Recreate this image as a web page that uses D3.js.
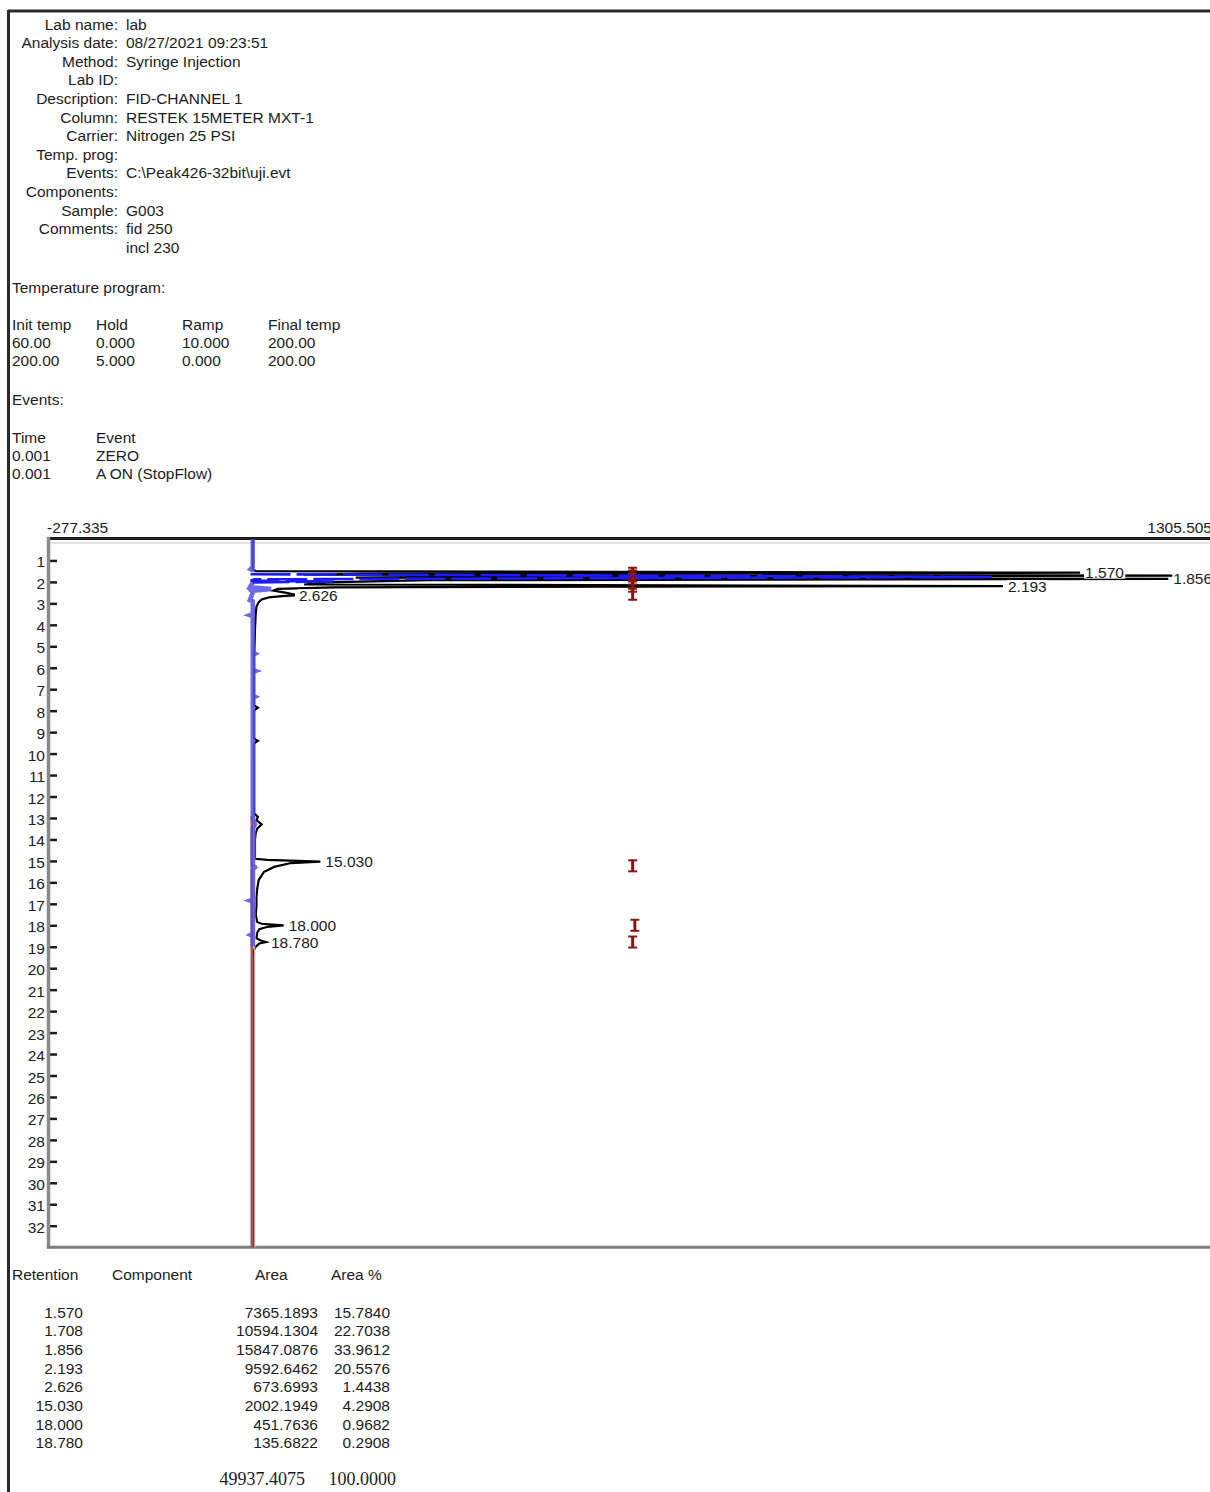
<!DOCTYPE html>
<html>
<head>
<meta charset="utf-8">
<script src="https://cdn.jsdelivr.net/npm/d3@7"></script>
<style>
  html, body { margin: 0; padding: 0; background: #fff; }
  svg { display: block; }
  text { font-family: "Liberation Sans", Arial, sans-serif; fill: #1c1c1c; }
</style>
</head>
<body>
<svg id="page" width="1210" height="1492"></svg>
<script>
// ---- Run header ----
const headerLabels = ["Lab name:", "Analysis date:", "Method:", "Lab ID:", "Description:", "Column:",
  "Carrier:", "Temp. prog:", "Events:", "Components:", "Sample:", "Comments:", ""];
const headerValues = ["lab", "08/27/2021 09:23:51", "Syringe Injection", "", "FID-CHANNEL 1",
  "RESTEK 15METER MXT-1", "Nitrogen 25 PSI", "", "C:\\Peak426-32bit\\uji.evt", "", "G003",
  "fid 250", "incl 230"];

// ---- Temperature program ----
const tempColumns = ["Init temp", "Hold", "Ramp", "Final temp"];
const tempRows = [["60.00", "0.000", "10.000", "200.00"], ["200.00", "5.000", "0.000", "200.00"]];

// ---- Events ----
const eventColumns = ["Time", "Event"];
const eventRows = [["0.001", "ZERO"], ["0.001", "A ON (StopFlow)"]];

// ---- Chromatogram (time in minutes, signal in mV) ----
const signalMin = -277.335;
const signalMax = 1305.505;
const timeMax = 33;
const timeTicks = d3.range(1, 33);

const peakTimes   = [1.570, 1.708, 1.856, 2.193, 2.626, 15.030, 18.000, 18.780];
const peakLabels  = ["1.570", "1.708", "1.856", "2.193", "2.626", "15.030", "18.000", "18.780"];
const peakHeights = [1126, 1420, 1246, 1021, 56, 92, 42, 18];
const peakAreas   = ["7365.1893", "10594.1304", "15847.0876", "9592.6462", "673.6993", "2002.1949", "451.7636", "135.6822"];
const peakAreaPct = ["15.7840", "22.7038", "33.9612", "20.5576", "1.4438", "4.2908", "0.9682", "0.2908"];
const totalArea = "49937.4075";
const totalAreaPct = "100.0000";

// FID signal trace [time, mV]
const fidTrace = [
  [0, 0], [1.40, 0], [1.50, 4], [1.570, 1126], [1.62, 150], [1.66, 70], [1.708, 1420],
  [1.76, 260], [1.80, 140], [1.856, 1246], [1.92, 240], [2.02, 100], [2.12, 70], [2.193, 1021],
  [2.25, 110], [2.32, 34], [2.40, 28], [2.50, 44], [2.58, 56], [2.626, 56], [2.66, 40],
  [2.72, 22], [2.82, 12], [2.95, 8], [3.15, 5], [3.5, 4], [4.2, 3], [5.5, 2], [7.75, 2],
  [7.86, 7], [7.98, 2], [9.30, 2], [9.40, 7], [9.52, 2], [12.8, 2], [12.95, 7], [13.1, 5],
  [13.3, 12], [13.5, 6], [13.7, 4], [14.0, 3], [14.90, 3], [14.95, 20], [15.030, 92],
  [15.10, 52], [15.28, 29], [15.52, 15], [15.9, 8], [16.3, 6], [16.7, 5], [17.1, 5],
  [17.5, 4], [17.85, 6], [17.93, 12], [18.000, 42], [18.07, 20], [18.18, 9], [18.35, 6],
  [18.6, 5], [18.70, 10], [18.780, 18], [18.85, 9], [19.0, 4], [19.2, 1], [19.5, 0], [33, 0]
];

// Overlay (reference run) trace [time, mV]
const refTrace = [
  [0, 0], [1.30, 0], [1.40, -3], [1.45, 0], [1.55, 0], [1.64, -3], [1.77, 1006], [1.88, 2],
  [1.94, -3], [1.98, 110], [2.02, 0], [2.25, -4], [2.33, 25], [2.42, -2], [2.5, 0], [2.85, -4],
  [2.9, 0], [3.5, 0], [3.55, -4], [3.6, 0], [5.3, 0], [5.35, 3], [5.4, 0], [6.1, 0], [6.15, 4],
  [6.2, 0], [7.3, 0], [7.35, 3], [7.4, 0], [13.0, 0], [13.3, 3], [13.5, 0], [15.2, 0], [15.3, 3],
  [15.4, 0], [16.8, 0], [16.85, -4], [16.9, 0], [18.4, 0], [18.45, -3], [18.5, 0], [19.0, 0]
];
const refDashedWindow = [1.62, 2.10];

// Integration baseline start (min)
const baselineStart = 12.9;

// Integration window markers [time, mV]
const markerTimes  = [1.60, 1.72, 1.86, 2.20, 2.58, 15.23, 18.00, 18.78];
const markerSignal = [517, 517, 517, 517, 517, 517, 520, 517];

// ------------------------------------------------------------------
const svg = d3.select("#page");

// page frame
svg.append("line").attr("x1", 8).attr("x2", 1210).attr("y1", 11).attr("y2", 11)
  .attr("stroke", "#2a2a2a").attr("stroke-width", 3);
svg.append("line").attr("x1", 8.5).attr("x2", 8.5).attr("y1", 10).attr("y2", 1492)
  .attr("stroke", "#2a2a2a").attr("stroke-width", 3);

const FS = 15.5;

// header block
const hdr = svg.append("g");
headerLabels.forEach((lab, i) => {
  const yy = 24 + i * 18.6 + 5.5;
  hdr.append("text").attr("x", 118).attr("y", yy).attr("text-anchor", "end")
    .attr("font-size", FS).text(lab);
  hdr.append("text").attr("x", 126).attr("y", yy).attr("font-size", FS).text(headerValues[i]);
});

// temperature program
const tcols = [12, 96, 182, 268];
svg.append("text").attr("x", 12).attr("y", 287 + 5.5).attr("font-size", FS).text("Temperature program:");
tempColumns.forEach((c, j) => svg.append("text").attr("x", tcols[j]).attr("y", 324 + 5.5)
  .attr("font-size", FS).text(c));
tempRows.forEach((r, i) => r.forEach((v, j) => svg.append("text").attr("x", tcols[j])
  .attr("y", 342 + i * 18 + 5.5).attr("font-size", FS).text(v)));

// events
svg.append("text").attr("x", 12).attr("y", 399 + 5.5).attr("font-size", FS).text("Events:");
eventColumns.forEach((c, j) => svg.append("text").attr("x", tcols[j]).attr("y", 437 + 5.5)
  .attr("font-size", FS).text(c));
eventRows.forEach((r, i) => r.forEach((v, j) => svg.append("text").attr("x", tcols[j])
  .attr("y", 455 + i * 18 + 5.5).attr("font-size", FS).text(v)));

// ---- chart ----
const plotLeft = 49, plotRight = 1212, plotTop = 539;
const pxPerMin = 21.46;
const x = d3.scaleLinear().domain([signalMin, signalMax]).range([plotLeft, plotRight]);
const y = d3.scaleLinear().domain([0, timeMax]).range([plotTop, plotTop + timeMax * pxPerMin]);
const plotBottom = y(timeMax);

svg.append("text").attr("x", 47).attr("y", 527 + 5.5).attr("font-size", FS).text(String(signalMin));
svg.append("text").attr("x", plotRight).attr("y", 527 + 5.5).attr("text-anchor", "end")
  .attr("font-size", FS).text(String(signalMax));

svg.append("defs").append("clipPath").attr("id", "plotclip")
  .append("rect").attr("x", plotLeft).attr("y", plotTop).attr("width", plotRight - plotLeft)
  .attr("height", plotBottom - plotTop);

// frame
svg.append("line").attr("x1", plotLeft - 2).attr("x2", 1210).attr("y1", plotTop - 0.5).attr("y2", plotTop - 0.5)
  .attr("stroke", "#1e1e1e").attr("stroke-width", 3);
svg.append("line").attr("x1", plotLeft).attr("x2", 1210).attr("y1", plotTop + 4).attr("y2", plotTop + 4)
  .attr("stroke", "#e2e2e2").attr("stroke-width", 2);

// time axis
const yAxis = d3.axisLeft(y).tickValues(timeTicks).tickSizeInner(-8).tickSizeOuter(0)
  .tickPadding(4).tickFormat(d3.format("d"));
const ax = svg.append("g").attr("transform", `translate(${plotLeft},0)`).call(yAxis);
ax.select(".domain").remove();
ax.selectAll(".tick line").attr("stroke", "#1a1a1a").attr("stroke-width", 2.5);
ax.selectAll(".tick text").attr("font-size", FS).attr("fill", "#1c1c1c")
  .attr("font-family", "Liberation Sans, Arial, sans-serif").attr("dy", "0.42em");

svg.append("line").attr("x1", plotLeft - 0.5).attr("x2", plotLeft - 0.5).attr("y1", plotTop - 2)
  .attr("y2", plotBottom + 1).attr("stroke", "#8a8a8a").attr("stroke-width", 3.5);
svg.append("line").attr("x1", plotLeft - 2).attr("x2", 1210).attr("y1", plotBottom).attr("y2", plotBottom)
  .attr("stroke", "#7d7d7d").attr("stroke-width", 3);

const plot = svg.append("g").attr("clip-path", "url(#plotclip)");

// FID trace
const line = d3.line().x(d => x(d[1])).y(d => y(d[0]));
plot.append("path").datum(fidTrace).attr("d", line).attr("fill", "none")
  .attr("stroke", "#000").attr("stroke-width", 2.2).attr("stroke-linejoin", "miter");

// integration baseline
plot.append("line").attr("x1", x(0) - 1).attr("x2", x(0) - 1).attr("y1", y(baselineStart)).attr("y2", plotBottom)
  .attr("stroke", "#a65656").attr("stroke-width", 2.6);
plot.append("line").attr("x1", x(0) + 1.8).attr("x2", x(0) + 1.8).attr("y1", y(baselineStart)).attr("y2", plotBottom)
  .attr("stroke", "#d9a6a6").attr("stroke-width", 1.6);

// overlay trace: solid outside the early elution window, dashed inside it
const refSolidA = refTrace.filter(d => d[0] <= refDashedWindow[0]);
const refDashed = refTrace.filter(d => d[0] >= refDashedWindow[0] - 0.02 && d[0] <= refDashedWindow[1]);
const refSolidB = refTrace.filter(d => d[0] >= refDashedWindow[1] - 0.1);
[refSolidA, refSolidB].forEach(seg => plot.append("path").datum(seg).attr("d", line)
  .attr("fill", "none").attr("stroke", "#5550e4").attr("stroke-opacity", 0.85).attr("stroke-width", 4.5));
plot.append("path").datum(refDashed).attr("d", line).attr("fill", "none")
  .attr("stroke", "#1c1cff").attr("stroke-width", 2.6).attr("stroke-dasharray", "40 6");

// integration markers
markerTimes.forEach((t, i) => {
  const mx = x(markerSignal[i]), my = y(t);
  const g = plot.append("g").attr("stroke", "#8b1414");
  g.append("line").attr("x1", mx).attr("x2", mx).attr("y1", my - 6).attr("y2", my + 6).attr("stroke-width", 3);
  g.append("line").attr("x1", mx - 4.5).attr("x2", mx + 4.5).attr("y1", my - 5.5).attr("y2", my - 5.5).attr("stroke-width", 2);
  g.append("line").attr("x1", mx - 4.5).attr("x2", mx + 4.5).attr("y1", my + 5.5).attr("y2", my + 5.5).attr("stroke-width", 2);
});

// peak labels
peakTimes.forEach((t, i) => {
  const lx = x(peakHeights[i]) + 4, ly = y(t);
  const g = plot.append("g");
  const txt = g.append("text").attr("x", lx + 1).attr("y", ly + 5.5).attr("font-size", FS).text(peakLabels[i]);
  const bb = txt.node().getBBox();
  g.insert("rect", "text").attr("x", bb.x - 1).attr("y", ly - 6).attr("width", bb.width + 2)
    .attr("height", 12).attr("fill", "#fff");
});

// ---- results table ----
const resY0 = 1312, resStep = 18.7;
svg.append("text").attr("x", 12).attr("y", 1274 + 5.5).attr("font-size", FS).text("Retention");
svg.append("text").attr("x", 112).attr("y", 1274 + 5.5).attr("font-size", FS).text("Component");
svg.append("text").attr("x", 255).attr("y", 1274 + 5.5).attr("font-size", FS).text("Area");
svg.append("text").attr("x", 331).attr("y", 1274 + 5.5).attr("font-size", FS).text("Area %");
peakLabels.forEach((lab, i) => {
  const yy = resY0 + i * resStep + 5.5;
  svg.append("text").attr("x", 83).attr("y", yy).attr("text-anchor", "end").attr("font-size", FS).text(lab);
  svg.append("text").attr("x", 318).attr("y", yy).attr("text-anchor", "end").attr("font-size", FS).text(peakAreas[i]);
  svg.append("text").attr("x", 390).attr("y", yy).attr("text-anchor", "end").attr("font-size", FS).text(peakAreaPct[i]);
});
svg.append("text").attr("x", 305).attr("y", 1479 + 6).attr("text-anchor", "end").attr("font-size", 18)
  .style("font-family", "'Liberation Serif', 'Times New Roman', serif").text(totalArea);
svg.append("text").attr("x", 396).attr("y", 1479 + 6).attr("text-anchor", "end").attr("font-size", 18)
  .style("font-family", "'Liberation Serif', 'Times New Roman', serif").text(totalAreaPct);
</script>
</body>
</html>
